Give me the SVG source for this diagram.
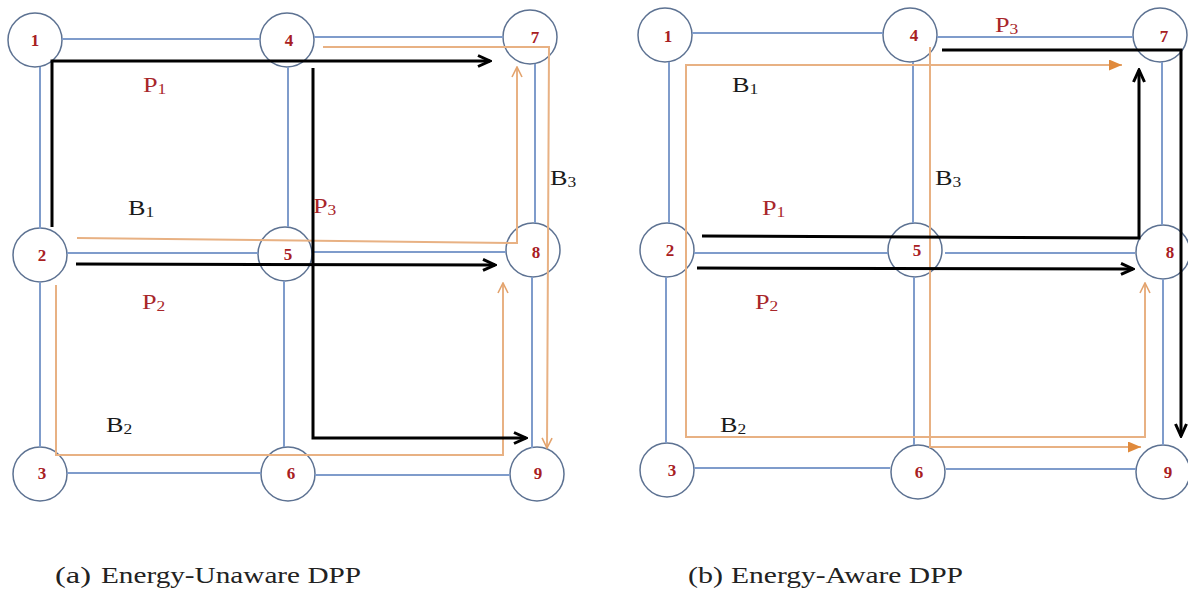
<svg xmlns="http://www.w3.org/2000/svg" width="1188" height="592" viewBox="0 0 1188 592">
<style>
.bg{fill:#fff}
.nc{fill:none;stroke:#5d7292;stroke-width:1.5}
.nt{font-family:"Liberation Serif",serif;font-weight:bold;font-size:17px;fill:#a8201f;text-anchor:middle}
.e{stroke:#7f9ccb;stroke-width:2;fill:none}
.o{stroke:#e8b183;stroke-width:2;fill:none}
.k{stroke:#000;stroke-width:3;fill:none}
.lr{font-family:"Liberation Serif",serif;font-size:21px;fill:#a8262a}
.lb{font-family:"Liberation Serif",serif;font-size:21px;fill:#1a1a1a}
.s{font-size:14px}
.cap{font-family:"Liberation Serif",serif;font-size:23px;fill:#222}
</style>
<defs>
<marker id="ak" viewBox="0 0 16 14" refX="14" refY="7" markerWidth="16" markerHeight="14" orient="auto" markerUnits="userSpaceOnUse"><path d="M2,1.5 L14,7 L2,12.5" fill="none" stroke="#000" stroke-width="3"/></marker>
<marker id="ao" viewBox="0 0 12 12" refX="11" refY="6" markerWidth="12" markerHeight="12" orient="auto" markerUnits="userSpaceOnUse"><path d="M1,1 L11,6 L1,11" fill="none" stroke="#e3a36d" stroke-width="1.6"/></marker>
<marker id="af" viewBox="0 0 13 11" refX="13" refY="5.5" markerWidth="13" markerHeight="11" orient="auto" markerUnits="userSpaceOnUse"><path d="M0,0 L13,5.5 L0,11 Z" fill="#e08a3c"/></marker>
</defs>
<rect class="bg" x="0" y="0" width="1188" height="592"/>

<g id="nodes-a">
<g id="a-n1"><circle class="nc" cx="35" cy="40" r="27"/><text class="nt" x="35" y="46">1</text></g>
<g id="a-n4"><circle class="nc" cx="287" cy="40" r="27"/><text class="nt" x="289" y="46">4</text></g>
<g id="a-n7"><circle class="nc" cx="530" cy="37" r="27"/><text class="nt" x="535" y="43">7</text></g>
<g id="a-n2"><circle class="nc" cx="40" cy="255" r="27"/><text class="nt" x="42" y="261">2</text></g>
<g id="a-n5"><circle class="nc" cx="285" cy="254" r="27"/><text class="nt" x="288" y="260">5</text></g>
<g id="a-n8"><circle class="nc" cx="533" cy="250" r="27"/><text class="nt" x="536" y="258">8</text></g>
<g id="a-n3"><circle class="nc" cx="40" cy="474" r="27"/><text class="nt" x="42" y="479">3</text></g>
<g id="a-n6"><circle class="nc" cx="288" cy="474" r="27"/><text class="nt" x="291" y="479">6</text></g>
<g id="a-n9"><circle class="nc" cx="537" cy="474" r="27"/><text class="nt" x="538" y="479">9</text></g>
</g>

<g id="nodes-b">
<g id="b-n1"><circle class="nc" cx="665" cy="35" r="27"/><text class="nt" x="668" y="42">1</text></g>
<g id="b-n4"><circle class="nc" cx="910" cy="35" r="27"/><text class="nt" x="914" y="41">4</text></g>
<g id="b-n7"><circle class="nc" cx="1160" cy="35" r="27"/><text class="nt" x="1164" y="42">7</text></g>
<g id="b-n2"><circle class="nc" cx="667" cy="250" r="27"/><text class="nt" x="670" y="256">2</text></g>
<g id="b-n5"><circle class="nc" cx="915" cy="250" r="27"/><text class="nt" x="917" y="256">5</text></g>
<g id="b-n8"><circle class="nc" cx="1163" cy="252" r="27"/><text class="nt" x="1170" y="258">8</text></g>
<g id="b-n3"><circle class="nc" cx="667" cy="470" r="27"/><text class="nt" x="672" y="476">3</text></g>
<g id="b-n6"><circle class="nc" cx="918" cy="472" r="27"/><text class="nt" x="919" y="478">6</text></g>
<g id="b-n9"><circle class="nc" cx="1163" cy="472" r="27"/><text class="nt" x="1168" y="478">9</text></g>
</g>

<g id="connectors">
<g id="links-a">
<line class="e" x1="62" y1="39" x2="260" y2="39"/>
<line class="e" x1="314" y1="37" x2="503" y2="37"/>
<line class="e" x1="40" y1="67" x2="40" y2="229"/>
<line class="e" x1="288" y1="67" x2="288" y2="227"/>
<line class="e" x1="535" y1="64" x2="535" y2="223"/>
<line class="e" x1="67" y1="253" x2="258" y2="253"/>
<line class="e" x1="312" y1="252" x2="506" y2="252"/>
<line class="e" x1="40" y1="282" x2="40" y2="447"/>
<line class="e" x1="284" y1="281" x2="284" y2="447"/>
<line class="e" x1="532" y1="277" x2="532" y2="448"/>
<line class="e" x1="67" y1="473" x2="261" y2="473"/>
<line class="e" x1="315" y1="475" x2="510" y2="475"/>
</g>
<g id="links-b">
<line class="e" x1="692" y1="33" x2="883" y2="33"/>
<line class="e" x1="937" y1="37" x2="1133" y2="37"/>
<line class="e" x1="669" y1="62" x2="669" y2="223"/>
<line class="e" x1="913" y1="62" x2="913" y2="223"/>
<line class="e" x1="1162" y1="62" x2="1162" y2="225"/>
<line class="e" x1="694" y1="253" x2="888" y2="253"/>
<line class="e" x1="945" y1="253" x2="1135" y2="253"/>
<line class="e" x1="666" y1="277" x2="666" y2="443"/>
<line class="e" x1="914" y1="277" x2="914" y2="445"/>
<line class="e" x1="1163" y1="279" x2="1163" y2="445"/>
<line class="e" x1="694" y1="468" x2="890" y2="468"/>
<line class="e" x1="946" y1="469" x2="1136" y2="469"/>
</g>
<g id="paths-a">
<path class="o" d="M323,47 L549,47 L547,448" marker-end="url(#ao)"/>
<path class="o" d="M77,238 L517,243 L517,67" marker-end="url(#ao)"/>
<path class="o" d="M56,285 L56,455 L503,455 L503,283" marker-end="url(#ao)"/>
<path class="k" d="M52,227 L52,61 L490,61" marker-end="url(#ak)"/>
<path class="k" d="M76,264 L495,265" marker-end="url(#ak)"/>
<path class="k" d="M313,68 L313,438 L526,438" marker-end="url(#ak)"/>
</g>
<g id="paths-b">
<path class="o" d="M686,252 L686,65 L1122,65" marker-end="url(#af)"/>
<path class="o" d="M686,252 L686,437 L1145,437 L1145,283" marker-end="url(#ao)"/>
<path class="o" d="M930,47 L930,447 L1141,447" marker-end="url(#af)"/>
<path class="k" d="M942,50 L1181,50 L1181,436" marker-end="url(#ak)"/>
<path class="k" d="M702,236 L1139,238 L1139,70" marker-end="url(#ak)"/>
<path class="k" d="M697,268 L1133,269" marker-end="url(#ak)"/>
</g>
</g>

<g id="labels">
<text class="lr" transform="translate(143,92) scale(1.25,1)">P<tspan class="s" dy="2">1</tspan></text>
<text class="lb" transform="translate(128,215) scale(1.25,1)">B<tspan class="s" dy="2">1</tspan></text>
<text class="lr" transform="translate(313,213) scale(1.25,1)">P<tspan class="s" dy="2">3</tspan></text>
<text class="lb" transform="translate(550,185) scale(1.25,1)">B<tspan class="s" dy="2">3</tspan></text>
<text class="lr" transform="translate(142,309) scale(1.25,1)">P<tspan class="s" dy="2">2</tspan></text>
<text class="lb" transform="translate(106,432) scale(1.25,1)">B<tspan class="s" dy="2">2</tspan></text>

<text class="lb" transform="translate(732,92) scale(1.25,1)">B<tspan class="s" dy="2">1</tspan></text>
<text class="lr" transform="translate(762,215) scale(1.25,1)">P<tspan class="s" dy="2">1</tspan></text>
<text class="lr" transform="translate(995,32) scale(1.25,1)">P<tspan class="s" dy="2">3</tspan></text>
<text class="lb" transform="translate(935,185) scale(1.25,1)">B<tspan class="s" dy="2">3</tspan></text>
<text class="lr" transform="translate(755,309) scale(1.25,1)">P<tspan class="s" dy="2">2</tspan></text>
<text class="lb" transform="translate(720,432) scale(1.25,1)">B<tspan class="s" dy="2">2</tspan></text>
</g>

<g id="captions">
<text class="cap" x="55" y="583" textLength="36" lengthAdjust="spacingAndGlyphs">(a)</text>
<text class="cap" x="101" y="583" textLength="260" lengthAdjust="spacingAndGlyphs">Energy-Unaware DPP</text>
<text class="cap" x="688" y="583" textLength="35" lengthAdjust="spacingAndGlyphs">(b)</text>
<text class="cap" x="731" y="583" textLength="232" lengthAdjust="spacingAndGlyphs">Energy-Aware DPP</text>
</g>
</svg>
